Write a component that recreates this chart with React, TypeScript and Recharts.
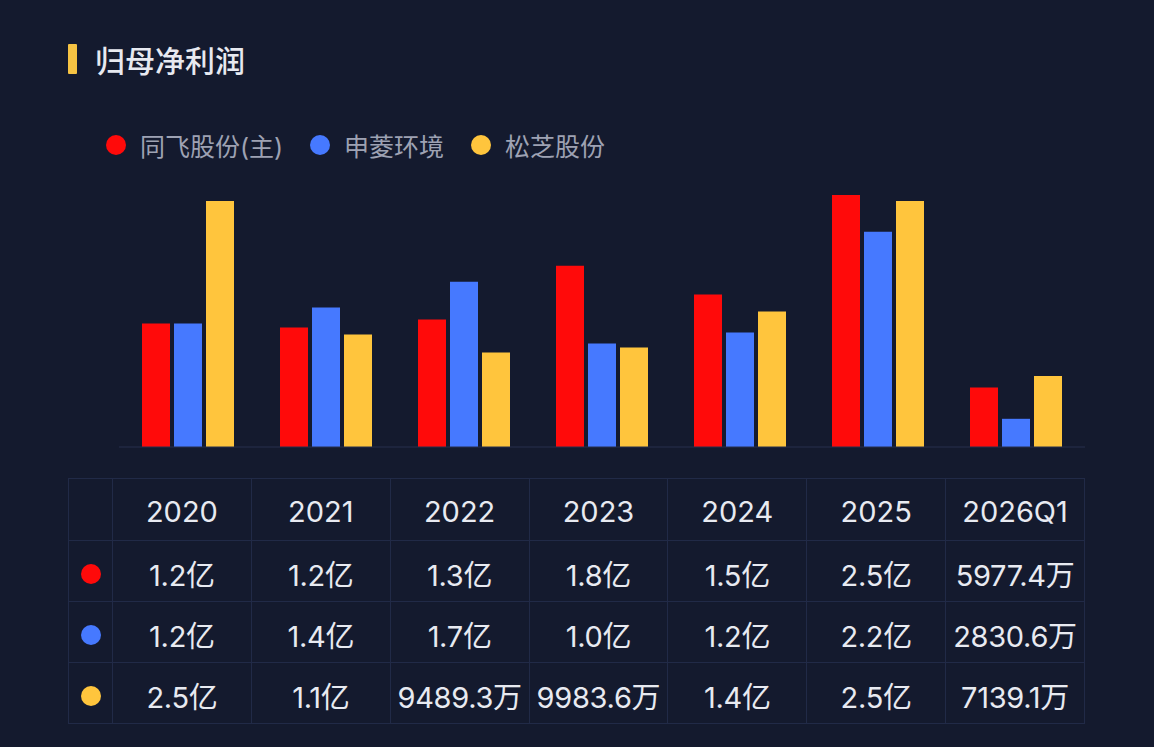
import { Bar, BarChart, XAxis, YAxis } from 'recharts';

const categories = ['2020', '2021', '2022', '2023', '2024', '2025', '2026Q1'];
const seriesNames = ['同飞股份(主)', '申菱环境', '松芝股份'];
const seriesColors = ['#ff0a0a', '#4679ff', '#ffc53d'];

// 亿元
const tongfei = [1.24, 1.2, 1.28, 1.82, 1.53, 2.53, 0.5977];
const shenling = [1.24, 1.4, 1.66, 1.04, 1.15, 2.16, 0.2831];
const songzhi = [2.47, 1.13, 0.9489, 0.9984, 1.36, 2.47, 0.7139];

const tongfeiLabels = ['1.2亿', '1.2亿', '1.3亿', '1.8亿', '1.5亿', '2.5亿', '5977.4万'];
const shenlingLabels = ['1.2亿', '1.4亿', '1.7亿', '1.0亿', '1.2亿', '2.2亿', '2830.6万'];
const songzhiLabels = ['2.5亿', '1.1亿', '9489.3万', '9983.6万', '1.4亿', '2.5亿', '7139.1万'];

const data = categories.map((name, i) => ({
  name,
  tongfei: tongfei[i],
  shenling: shenling[i],
  songzhi: songzhi[i],
}));

const tableRows = [tongfeiLabels, shenlingLabels, songzhiLabels];

const BG = '#141a2e';
const LINE = '#212a47';
const FONT = 'Inter, "Noto Sans CJK SC", sans-serif';

const legendPos = [116, 320, 481];

export default function App() {
  return (
    <div style={{ position: 'relative', width: 1154, height: 747, background: BG, fontFamily: FONT, overflow: 'hidden' }}>
      <style>{'body{margin:0}'}</style>

      <div style={{ position: 'absolute', left: 68, top: 44, width: 9, height: 30, background: '#f6c343', borderRadius: 1 }} />
      <div style={{ position: 'absolute', left: 95, top: 39, height: 44, lineHeight: '44px', fontSize: 30, fontWeight: 500, color: '#e7e9f0' }}>
        归母净利润
      </div>

      {seriesNames.map((n, i) => (
        <div key={n} style={{ position: 'absolute', left: legendPos[i] - 10, top: 127, height: 36, display: 'flex', alignItems: 'center' }}>
          <span style={{ width: 20, height: 20, borderRadius: 10, background: seriesColors[i], display: 'inline-block' }} />
          <span style={{ marginLeft: 14, fontSize: 25, color: '#9ea2b3' }}>{n}</span>
        </div>
      ))}

      <div style={{ position: 'absolute', left: 0, top: 0 }}>
        <BarChart width={1154} height={460} data={data} margin={{ top: 195, right: 69, left: 119, bottom: 0 }} barSize={28} barGap={4}>
          <XAxis dataKey="name" tick={false} tickLine={false} height={13} axisLine={{ stroke: '#262f4c' }} />
          <YAxis hide domain={[0, 'dataMax']} />
          <Bar dataKey="tongfei" fill={seriesColors[0]} isAnimationActive={false} />
          <Bar dataKey="shenling" fill={seriesColors[1]} isAnimationActive={false} />
          <Bar dataKey="songzhi" fill={seriesColors[2]} isAnimationActive={false} />
        </BarChart>
      </div>

      <table
        style={{
          position: 'absolute',
          left: 68,
          top: 478,
          width: 1017,
          borderCollapse: 'collapse',
          tableLayout: 'fixed',
          color: '#e8eaf1',
          fontSize: 29,
        }}
      >
        <colgroup>
          <col style={{ width: 44 }} />
          {categories.map((c) => (
            <col key={c} />
          ))}
        </colgroup>
        <tbody>
          <tr style={{ height: 62 }}>
            <td style={{ border: `1px solid ${LINE}` }} />
            {categories.map((c) => (
              <td key={c} style={{ border: `1px solid ${LINE}`, textAlign: 'center', fontWeight: 400, padding: '4px 0 0 0' }}>
                {c}
              </td>
            ))}
          </tr>
          {tableRows.map((row, r) => (
            <tr key={r} style={{ height: 61 }}>
              <td style={{ border: `1px solid ${LINE}`, textAlign: 'center', padding: 0 }}>
                <span style={{ display: 'inline-block', width: 20, height: 20, borderRadius: 10, background: seriesColors[r], verticalAlign: 'middle' }} />
              </td>
              {row.map((v, i) => (
                <td key={i} style={{ border: `1px solid ${LINE}`, textAlign: 'center', padding: '3px 0 0 0', whiteSpace: 'nowrap', letterSpacing: -0.3 }}>
                  {v}
                </td>
              ))}
            </tr>
          ))}
        </tbody>
      </table>
    </div>
  );
}
